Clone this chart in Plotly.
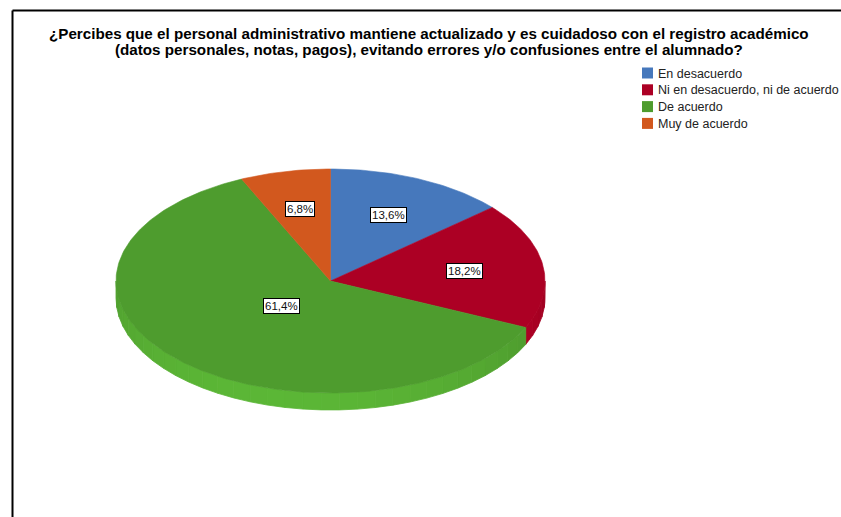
import numpy as np
import plotly.graph_objects as go

# ---- data ----
categories = ["En desacuerdo", "Ni en desacuerdo, ni de acuerdo", "De acuerdo", "Muy de acuerdo"]
percentages = [13.6, 18.2, 61.4, 6.8]
title_lines = [
    "¿Percibes que el personal administrativo mantiene actualizado y es cuidadoso con el registro académico",
    "(datos personales, notas, pagos), evitando errores y/o confusiones entre el alumnado?",
]

# ---- style ----
top_colors = [(70, 120, 188), (172, 0, 36), (78, 156, 46), (210, 88, 30)]
FONT = "Liberation Sans, Arial, sans-serif"
W, H = 841, 517
CX, CY = 330.5, 281.0      # ellipse centre (pixel space)
RX, RY = 214.5, 112.0      # ellipse semi-axes
DEPTH = 17.0               # thickness of the tilted disc
LABEL_R = [0.65, 0.63, 0.32, 0.66]


def rim(theta_deg, dy=0.0):
    t = np.radians(theta_deg)
    return CX + RX * np.sin(t), CY - RY * np.cos(t) + dy


def rgb(c, k=1.0):
    r, g, b = (int(max(0, min(255, round(v * k)))) for v in c)
    return f"rgb({r},{g},{b})"


fig = go.Figure()

# slice angle ranges, clockwise from 12 o'clock
total = sum(percentages)
bounds = np.concatenate([[0.0], np.cumsum(percentages) / total * 360.0])

# side walls (front half only, 90..270 degrees)
for i, c in enumerate(top_colors):
    a, b = max(bounds[i], 90.0), min(bounds[i + 1], 270.0)
    if b <= a:
        continue
    n = max(1, int(np.ceil((b - a) / 5.0)))
    edges = np.linspace(a, b, n + 1)
    for s, e in zip(edges[:-1], edges[1:]):
        th = np.linspace(s, e, 8)
        xt, yt = rim(th)
        xb, yb = rim(th[::-1], DEPTH)
        mid = 0.5 * (s + e)
        k = 0.97 + 0.2 * np.cos(np.radians(mid - 195.0))
        col = rgb(c, k)
        fig.add_trace(go.Scatter(
            x=np.concatenate([xt, xb, xt[:1]]), y=np.concatenate([yt, yb, yt[:1]]),
            mode="lines", fill="toself", fillcolor=col,
            line=dict(color=col, width=0.8), hoverinfo="skip", showlegend=False))

# top faces
for i, c in enumerate(top_colors):
    th = np.linspace(bounds[i], bounds[i + 1], max(2, int(bounds[i + 1] - bounds[i]) + 2))
    xr, yr = rim(th)
    xs = np.concatenate([[CX], xr, [CX]])
    ys = np.concatenate([[CY], yr, [CY]])
    fig.add_trace(go.Scatter(
        x=xs, y=ys, mode="lines", fill="toself", fillcolor=rgb(c),
        line=dict(color=rgb(c), width=0.6), hoverinfo="skip", showlegend=False))

annotations = []
# percentage labels
for i, p in enumerate(percentages):
    mid = 0.5 * (bounds[i] + bounds[i + 1])
    t = np.radians(mid)
    lx = CX + LABEL_R[i] * RX * np.sin(t)
    ly = CY - LABEL_R[i] * RY * np.cos(t)
    annotations.append(dict(
        x=lx, y=ly, xref="x", yref="y", showarrow=False,
        text=f"{p:.1f}".replace(".", ",") + "%",
        font=dict(family=FONT, size=11.5, color="#111"),
        bgcolor="white", bordercolor="black", borderwidth=1, borderpad=1))

# title
for j, line in enumerate(title_lines):
    annotations.append(dict(
        x=429, y=33 + 16 * j, xref="x", yref="y", showarrow=False,
        text=f"<b>{line}</b>", font=dict(family=FONT, size=15.2, color="black"),
        xanchor="center", yanchor="middle"))

# legend
shapes = []
LEG_X, LEG_Y, LEG_STEP = 642, 73.5, 16.8
for i, (name, c) in enumerate(zip(categories, top_colors)):
    yy = LEG_Y + i * LEG_STEP
    shapes.append(dict(type="rect", xref="x", yref="y",
                       x0=LEG_X, x1=LEG_X + 11, y0=yy - 6, y1=yy + 5,
                       fillcolor=rgb(c), line=dict(width=0)))
    annotations.append(dict(
        x=LEG_X + 14, y=yy, xref="x", yref="y", showarrow=False,
        text=name, font=dict(family=FONT, size=12.5, color="#222"),
        xanchor="left", yanchor="middle"))

# chart frame (left and top edges)
shapes.append(dict(type="line", xref="x", yref="y", x0=12.5, x1=12.5, y0=10.5, y1=H,
                   line=dict(color="black", width=2)))
shapes.append(dict(type="line", xref="x", yref="y", x0=12.5, x1=W, y0=10.5, y1=10.5,
                   line=dict(color="black", width=2)))

fig.update_layout(
    width=W, height=H, margin=dict(l=0, r=0, t=0, b=0),
    paper_bgcolor="white", plot_bgcolor="white",
    xaxis=dict(range=[0, W], visible=False, fixedrange=True),
    yaxis=dict(range=[H, 0], visible=False, fixedrange=True),
    annotations=annotations, shapes=shapes, showlegend=False,
)

fig.write_html("out.html")
